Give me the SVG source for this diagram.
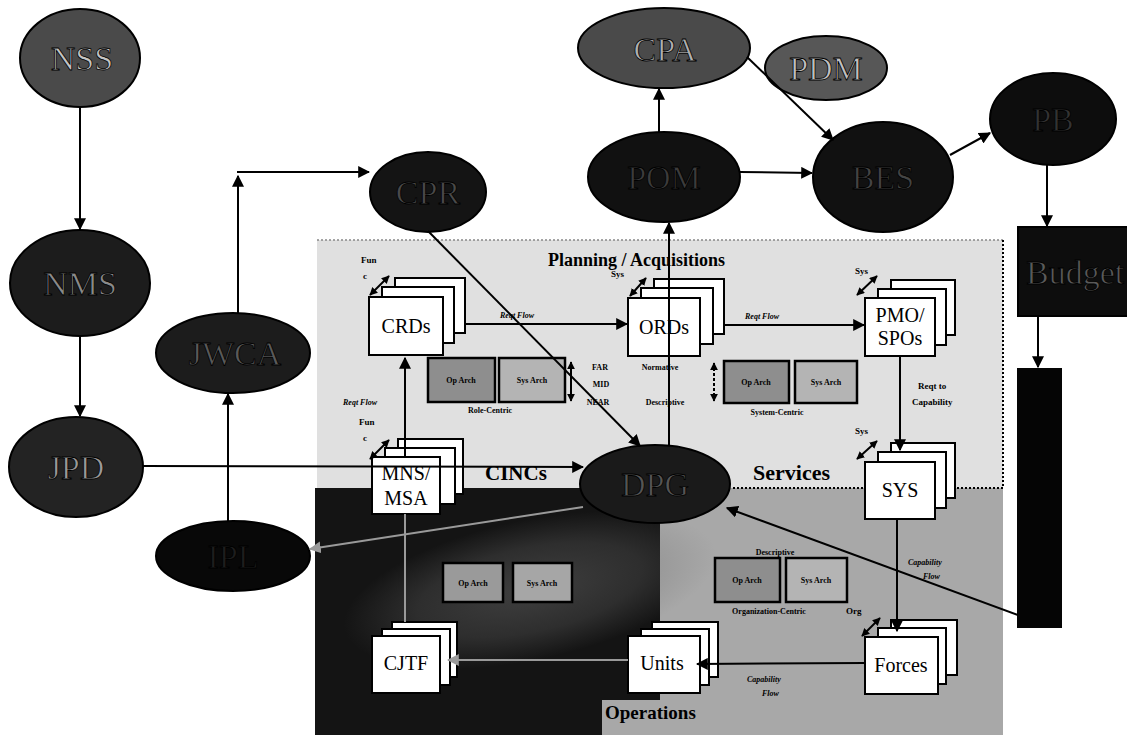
<svg xmlns="http://www.w3.org/2000/svg" width="1127" height="737" viewBox="0 0 1127 737">
  <defs>
    <style>
      .ell { stroke: #000; stroke-width: 2; }
      .etxt { font-family: "Liberation Serif", "Times New Roman", serif; font-size: 34px; text-anchor: middle; stroke: #000; stroke-width: 0.8; }
      .page { fill: #fff; stroke: #000; stroke-width: 2; }
      .btxt { font-family: "Liberation Serif", "Times New Roman", serif; font-size: 20px; text-anchor: middle; fill: #000; }
      .sm { font-family: "Liberation Serif", "Times New Roman", serif; font-size: 9px; font-weight: bold; fill: #000; }
      .smi { font-family: "Liberation Serif", "Times New Roman", serif; font-size: 8px; font-style: italic; font-weight: bold; fill: #000; }
      .arch { stroke: #000; stroke-width: 2.5; }
      .atxt { font-family: "Liberation Serif", "Times New Roman", serif; font-size: 8px; font-weight: bold; text-anchor: middle; fill: #000; }
      .region { font-family: "Liberation Serif", "Times New Roman", serif; font-weight: bold; fill: #000; }
      .c { fill: none; stroke: #000; stroke-width: 2; }
      .cg { fill: none; stroke: #9a9a9a; stroke-width: 2; }
      .dbl { fill: none; stroke: #000; stroke-width: 2; }
    </style>
    <marker id="ah" viewBox="0 0 10 10" refX="9" refY="5" markerWidth="6" markerHeight="6" markerUnits="strokeWidth" orient="auto">
      <path d="M0,0 L10,5 L0,10 z" fill="#000"/>
    </marker>
    <marker id="ahg" viewBox="0 0 10 10" refX="9" refY="5" markerWidth="6" markerHeight="6" markerUnits="strokeWidth" orient="auto">
      <path d="M0,0 L10,5 L0,10 z" fill="#9a9a9a"/>
    </marker>
    <marker id="ahs" viewBox="0 0 10 10" refX="9" refY="5" markerWidth="4" markerHeight="4" markerUnits="strokeWidth" orient="auto-start-reverse">
      <path d="M0,0 L10,5 L0,10 z" fill="#000"/>
    </marker>
    <radialGradient id="haze" cx="0.5" cy="0.5" r="0.5">
      <stop offset="0" stop-color="#6a6a6a" stop-opacity="0.5"/>
      <stop offset="0.6" stop-color="#6a6a6a" stop-opacity="0.3"/>
      <stop offset="1" stop-color="#6a6a6a" stop-opacity="0"/>
    </radialGradient>
  </defs>

  <rect x="0" y="0" width="1127" height="737" fill="#fff"/>

  <!-- Background regions -->
  <g id="regions">
    <rect x="317" y="240" width="686" height="248" fill="#e0e0e0"/>
    <line x1="317" y1="240" x2="1003" y2="240" stroke="#888" stroke-width="1.5" stroke-dasharray="2 2"/>
    <line x1="1003" y1="240" x2="1003" y2="488" stroke="#000" stroke-width="2" stroke-dasharray="2 2"/>
    <rect x="660" y="488" width="343" height="247" fill="#a8a8a8"/>
    <rect x="602" y="700" width="60" height="35" fill="#a8a8a8"/>
    <line x1="733" y1="488" x2="1003" y2="488" stroke="#000" stroke-width="2" stroke-dasharray="2 2"/>
    <polygon points="315,488 660,488 660,700 602,700 602,735 315,735" fill="#141414"/>
    <ellipse cx="530" cy="590" rx="190" ry="70" transform="rotate(-12 530 590)" fill="url(#haze)"/>
    <text class="region" x="548" y="266" font-size="18">Planning / Acquisitions</text>
    <text class="region" x="485" y="480" font-size="21">CINCs</text>
    <text class="region" x="753" y="480" font-size="22">Services</text>
    <text class="region" x="605" y="719" font-size="19" fill="#222">Operations</text>
  </g>

  <!-- Architecture views -->
  <g id="role-centric">
    <rect class="arch" x="428" y="358" width="67" height="44" fill="#8e8e8e"/>
    <rect class="arch" x="499" y="358" width="66" height="44" fill="#b4b4b4"/>
    <text class="atxt" x="461" y="383">Op Arch</text>
    <text class="atxt" x="532" y="383">Sys Arch</text>
    <text class="atxt" x="490" y="413">Role-Centric</text>
  </g>
  <g id="system-centric">
    <rect class="arch" x="724" y="361" width="65" height="42" fill="#8e8e8e"/>
    <rect class="arch" x="795" y="361" width="62" height="42" fill="#b4b4b4"/>
    <text class="atxt" x="756" y="385">Op Arch</text>
    <text class="atxt" x="826" y="385">Sys Arch</text>
    <text class="atxt" x="777" y="415">System-Centric</text>
  </g>
  <g id="joint-centric">
    <rect class="arch" x="443" y="563" width="60" height="39" fill="#9a9a9a"/>
    <rect class="arch" x="513" y="563" width="59" height="39" fill="#a6a6a6"/>
    <text class="atxt" x="473" y="586">Op Arch</text>
    <text class="atxt" x="542" y="586">Sys Arch</text>
  </g>
  <g id="organization-centric">
    <rect class="arch" x="715" y="558" width="65" height="44" fill="#8e8e8e"/>
    <rect class="arch" x="786" y="558" width="61" height="44" fill="#b4b4b4"/>
    <text class="atxt" x="747" y="583">Op Arch</text>
    <text class="atxt" x="816" y="583">Sys Arch</text>
    <text class="atxt" x="775" y="555">Descriptive</text>
    <text class="atxt" x="769" y="614">Organization-Centric</text>
  </g>
  <g id="horizon-labels">
    <line class="dbl" x1="571" y1="362" x2="571" y2="401" marker-start="url(#ahs)" marker-end="url(#ahs)"/>
    <line class="dbl" x1="714" y1="363" x2="714" y2="401" stroke-dasharray="3 2" marker-start="url(#ahs)" marker-end="url(#ahs)"/>
    <text class="atxt" x="600" y="370">FAR</text>
    <text class="atxt" x="601" y="387">MID</text>
    <text class="atxt" x="598" y="405">NEAR</text>
    <text class="atxt" x="660" y="370">Normative</text>
    <text class="atxt" x="665" y="405">Descriptive</text>
  </g>

  <!-- Document stacks -->
  <g id="CRDs">
    <rect class="page" x="395" y="278" width="70" height="55"/>
    <rect class="page" x="382" y="287" width="72" height="56"/>
    <rect class="page" x="369" y="297" width="74" height="58"/>
    <text class="btxt" x="406" y="333">CRDs</text>
    <line class="dbl" x1="370" y1="295" x2="389" y2="276" marker-start="url(#ahs)" marker-end="url(#ahs)"/>
    <text class="sm" x="361" y="263">Fun</text>
    <text class="sm" x="363" y="279">c</text>
  </g>
  <g id="ORDs">
    <rect class="page" x="654" y="279" width="70" height="55"/>
    <rect class="page" x="641" y="288" width="72" height="56"/>
    <rect class="page" x="628" y="298" width="72" height="58"/>
    <text class="btxt" x="664" y="334">ORDs</text>
    <line class="dbl" x1="630" y1="296" x2="646" y2="278" marker-start="url(#ahs)" marker-end="url(#ahs)"/>
    <text class="sm" x="611" y="277">Sys</text>
  </g>
  <g id="PMO-SPOs">
    <rect class="page" x="891" y="280" width="64" height="55"/>
    <rect class="page" x="878" y="289" width="68" height="56"/>
    <rect class="page" x="865" y="298" width="70" height="58"/>
    <text class="btxt" x="900" y="322">PMO/</text>
    <text class="btxt" x="900" y="345">SPOs</text>
    <line class="dbl" x1="857" y1="295" x2="877" y2="276" marker-start="url(#ahs)" marker-end="url(#ahs)"/>
    <text class="sm" x="855" y="274">Sys</text>
  </g>
  <g id="MNS-MSA">
    <rect class="page" x="398" y="439" width="65" height="55"/>
    <rect class="page" x="385" y="448" width="70" height="56"/>
    <rect class="page" x="372" y="457" width="68" height="57"/>
    <text class="btxt" x="406" y="480">MNS/</text>
    <text class="btxt" x="406" y="505">MSA</text>
    <line class="dbl" x1="370" y1="459" x2="389" y2="440" marker-start="url(#ahs)" marker-end="url(#ahs)"/>
    <text class="sm" x="359" y="425">Fun</text>
    <text class="sm" x="363" y="441">c</text>
  </g>
  <g id="SYS">
    <rect class="page" x="891" y="443" width="64" height="55"/>
    <rect class="page" x="878" y="452" width="68" height="56"/>
    <rect class="page" x="865" y="462" width="70" height="57"/>
    <text class="btxt" x="900" y="497">SYS</text>
    <line class="dbl" x1="857" y1="459" x2="877" y2="441" marker-start="url(#ahs)" marker-end="url(#ahs)"/>
    <text class="sm" x="855" y="434">Sys</text>
  </g>
  <g id="CJTF">
    <rect class="page" x="392" y="622" width="65" height="55"/>
    <rect class="page" x="382" y="629" width="68" height="56"/>
    <rect class="page" x="372" y="636" width="68" height="57"/>
    <text class="btxt" x="406" y="670">CJTF</text>
  </g>
  <g id="Units">
    <rect class="page" x="652" y="622" width="66" height="55"/>
    <rect class="page" x="641" y="629" width="68" height="56"/>
    <rect class="page" x="628" y="636" width="72" height="57"/>
    <text class="btxt" x="662" y="670">Units</text>
  </g>
  <g id="Forces">
    <rect class="page" x="891" y="620" width="66" height="55"/>
    <rect class="page" x="878" y="628" width="68" height="56"/>
    <rect class="page" x="865" y="637" width="73" height="57"/>
    <text class="btxt" x="901" y="672">Forces</text>
    <line class="dbl" x1="862" y1="636" x2="880" y2="618" marker-start="url(#ahs)" marker-end="url(#ahs)"/>
    <text class="sm" x="846" y="614">Org</text>
  </g>

  <!-- Process ellipses -->
  <g id="NSS">
    <ellipse class="ell" cx="80" cy="58" rx="60" ry="49" fill="#4a4a4a"/>
    <text class="etxt" x="82" y="70" fill="#c4c4c4">NSS</text>
  </g>
  <g id="NMS">
    <ellipse class="ell" cx="80" cy="283" rx="70" ry="53" fill="#1c1c1c"/>
    <text class="etxt" x="80" y="295" fill="#8a8a8a">NMS</text>
  </g>
  <g id="JPD">
    <ellipse class="ell" cx="76" cy="467" rx="67" ry="50" fill="#232323"/>
    <text class="etxt" x="76" y="479" fill="#9a9a9a">JPD</text>
  </g>
  <g id="JWCA">
    <ellipse class="ell" cx="233" cy="353" rx="77" ry="40" fill="#1c1c1c"/>
    <text class="etxt" x="235" y="365" fill="#5a5a5a">JWCA</text>
  </g>
  <g id="IPL">
    <ellipse class="ell" cx="233" cy="556" rx="77" ry="35" fill="#080808"/>
    <text class="etxt" x="233" y="568" fill="#1e1e1e">IPL</text>
  </g>
  <g id="CPR">
    <ellipse class="ell" cx="428" cy="192" rx="58" ry="40" fill="#141414"/>
    <text class="etxt" x="428" y="204" fill="#4a4a4a">CPR</text>
  </g>
  <g id="CPA">
    <ellipse class="ell" cx="664" cy="48" rx="86" ry="40" fill="#4a4a4a"/>
    <text class="etxt" x="665" y="61" fill="#b0b0b0">CPA</text>
  </g>
  <g id="POM">
    <ellipse class="ell" cx="664" cy="177" rx="76" ry="45" fill="#111"/>
    <text class="etxt" x="664" y="189" fill="#3c3c3c">POM</text>
  </g>
  <g id="PDM">
    <ellipse class="ell" cx="826" cy="68" rx="61" ry="32" fill="#575757"/>
    <text class="etxt" x="826" y="80" fill="#c0c0c0">PDM</text>
  </g>
  <g id="BES">
    <ellipse class="ell" cx="883" cy="177" rx="70" ry="55" fill="#111"/>
    <text class="etxt" x="883" y="189" fill="#444">BES</text>
  </g>
  <g id="PB">
    <ellipse class="ell" cx="1053" cy="119" rx="63" ry="46" fill="#0d0d0d"/>
    <text class="etxt" x="1053" y="131" fill="#333">PB</text>
  </g>
  <g id="Budget">
    <rect x="1018" y="227" width="115" height="89" fill="#0d0d0d" stroke="#000" stroke-width="2"/>
    <text class="etxt" x="1026" y="284" fill="#5a5a5a" style="text-anchor:start">Budget</text>
  </g>
  <g id="Execution">
    <rect x="1017" y="368" width="45" height="260" fill="#050505"/>
  </g>
  <g id="DPG">
    <ellipse class="ell" cx="655" cy="484" rx="75" ry="39" fill="#1a1a1a"/>
    <text class="etxt" x="655" y="496" fill="#555">DPG</text>
  </g>

  <!-- Connectors -->
  <g id="connectors">
    <line class="c" x1="80" y1="107" x2="80" y2="229" marker-end="url(#ah)"/>
    <line class="c" x1="80" y1="336" x2="80" y2="416" marker-end="url(#ah)"/>
    <line class="c" x1="143" y1="466" x2="583" y2="467" marker-end="url(#ah)"/>
    <line class="c" x1="228" y1="521" x2="228" y2="394" marker-end="url(#ah)"/>
    <line class="c" x1="238" y1="313" x2="238" y2="176" marker-end="url(#ah)"/>
    <line class="c" x1="237" y1="172" x2="369" y2="172" marker-end="url(#ah)"/>
    <line class="c" x1="428" y1="231" x2="640" y2="446" marker-end="url(#ah)"/>
    <line class="c" x1="669" y1="445" x2="669" y2="223" marker-end="url(#ah)"/>
    <line class="c" x1="659" y1="132" x2="659" y2="89" marker-end="url(#ah)"/>
    <line class="c" x1="740" y1="172" x2="812" y2="173" marker-end="url(#ah)"/>
    <line class="c" x1="747" y1="57" x2="833" y2="140" marker-end="url(#ah)"/>
    <line class="c" x1="950" y1="155" x2="990" y2="133" marker-end="url(#ah)"/>
    <line class="c" x1="1047" y1="165" x2="1047" y2="226" marker-end="url(#ah)"/>
    <line class="c" x1="1038" y1="317" x2="1038" y2="367" marker-end="url(#ah)"/>
    <line class="c" x1="1018" y1="615" x2="727" y2="508" marker-end="url(#ah)"/>
    <line class="cg" x1="583" y1="507" x2="310" y2="549" marker-end="url(#ahg)"/>
    <line class="c" x1="465" y1="324" x2="627" y2="324" marker-end="url(#ah)"/>
    <text class="smi" x="500" y="318">Reqt  Flow</text>
    <line class="c" x1="724" y1="325" x2="864" y2="325" marker-end="url(#ah)"/>
    <text class="smi" x="745" y="319">Reqt  Flow</text>
    <line class="c" x1="900" y1="356" x2="900" y2="450" marker-end="url(#ah)"/>
    <text class="sm" x="918" y="389" font-size="8">Reqt  to</text>
    <text class="sm" x="912" y="405" font-size="8">Capability</text>
    <line class="c" x1="897" y1="519" x2="897" y2="631" marker-end="url(#ah)"/>
    <text class="smi" x="908" y="565">Capability</text>
    <text class="smi" x="923" y="579">Flow</text>
    <line class="c" x1="865" y1="663" x2="697" y2="664" marker-end="url(#ah)"/>
    <text class="smi" x="747" y="682">Capability</text>
    <text class="smi" x="762" y="696">Flow</text>
    <line class="cg" x1="628" y1="660" x2="448" y2="660" marker-end="url(#ahg)"/>
    <line class="cg" x1="405" y1="622" x2="405" y2="514"/>
    <line class="c" x1="405" y1="457" x2="405" y2="358" marker-end="url(#ah)"/>
    <text class="smi" x="343" y="405">Reqt  Flow</text>
  </g>
</svg>
